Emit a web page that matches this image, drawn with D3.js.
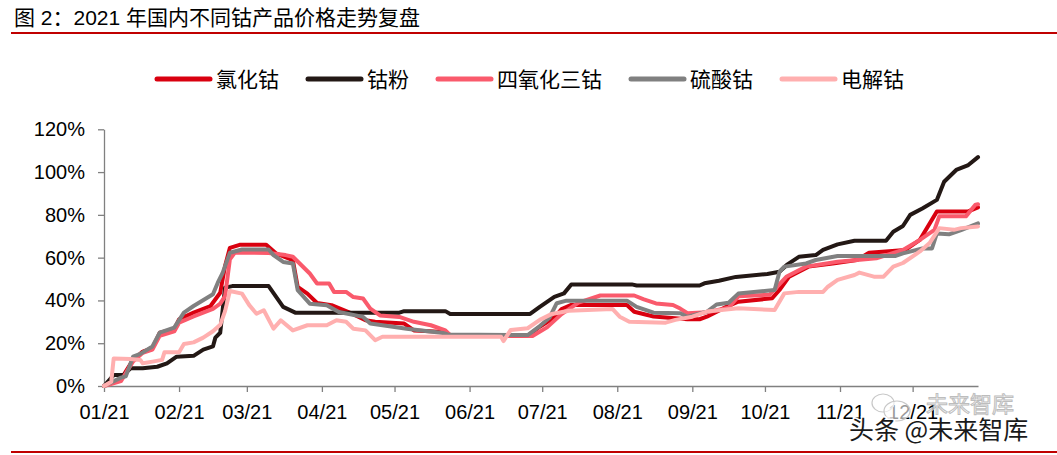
<!DOCTYPE html>
<html><head><meta charset="utf-8">
<script src="https://cdn.jsdelivr.net/npm/d3@7"></script>
<style>
html,body{margin:0;padding:0;background:#fff;}
svg{display:block;font-family:"Liberation Sans",Arial,"Noto Sans CJK SC",sans-serif;}
</style></head><body>
<svg id="chart" width="1057" height="455"></svg>
<script>
// ---------- DATA ----------
const titleText = "图 2：2021 年国内不同钴产品价格走势复盘";
const seriesNames = ["氯化钴", "钴粉", "四氧化三钴", "硫酸钴", "电解钴"];
const seriesColors = ["#D9000F", "#231815", "#FA5A6C", "#808080", "#FFAFAF"];
const yTickValues = [0, 20, 40, 60, 80, 100, 120];
const xTickDates = ["01-01","02-01","03-01","04-01","05-01","06-01","07-01","08-01","09-01","10-01","11-01","12-01"];

const cobaltChloride = [["01-01",0],["01-06",2.3],["01-08",3.1],["01-13",12.2],["01-17",16.1],["01-21",17.7],["01-24",24.9],["01-30",26.5],["02-01",31.2],["02-07",34.3],["02-14",37.4],["02-18",43.6],["02-20",56.1],["02-22",64.6],["02-26",66],["03-09",66],["03-13",62],["03-20",58.8],["03-22",46.3],["03-26",43.2],["03-30",38.8],["04-05",37.8],["04-12",34.6],["04-19",30.7],["04-23",30],["05-05",29.2],["05-09",26],["05-22",25.3],["05-24",23.8],["06-25",23.4],["06-30",27.7],["07-06",32],["07-09",36],["07-13",37.9],["08-05",37.9],["08-08",34.7],["08-16",32.5],["08-30",31.2],["09-04",31.2],["09-07",32.4],["09-15",37],["09-20",39.4],["10-04",41],["10-07",44.9],["10-11",51.1],["10-15",53.4],["10-19",55.8],["10-29",57.3],["11-08",58.9],["11-13",62.3],["11-28",63.6],["12-04",68.3],["12-11",81.6],["12-24",81.6],["12-28",83.5]];

const cobaltPowder = [["01-01",0],["01-05",5.1],["01-09",5.1],["01-12",8.3],["01-17",8.3],["01-23",9],["01-27",10.6],["01-31",13.7],["02-07",14.1],["02-11",17],["02-15",18.5],["02-16",22.6],["02-18",24.9],["02-20",46],["02-23",46.7],["03-10",46.7],["03-16",37],["03-21",34.3],["05-03",34.3],["05-05",35],["05-22",35],["05-24",33.7],["06-26",33.7],["06-30",37],["07-06",41.7],["07-10",43.3],["07-13",47.5],["08-07",47.5],["08-09",47],["09-04",47],["09-06",48],["09-12",49.2],["09-19",51],["10-02",52.4],["10-07",53.4],["10-10",56.6],["10-15",60.4],["10-22",61.2],["10-25",63.6],["10-31",66.2],["11-07",67.9],["11-20",67.9],["11-23",72.1],["11-27",74.8],["11-30",80],["12-05",83],["12-11",87],["12-14",95.5],["12-19",101],["12-24",103.3],["12-28",107]];

const tricobaltTetroxide = [["01-01",0],["01-08",2.3],["01-13",11.5],["01-17",15.5],["01-21",17],["01-24",23.5],["01-30",25.5],["02-01",29.6],["02-07",32.5],["02-15",36],["02-18",38.5],["02-20",42],["02-22",59.2],["02-24",62.3],["03-10",62.2],["03-17",61.2],["03-20",60.4],["03-27",52.6],["03-30",47.9],["04-04",47.9],["04-06",44],["04-11",44],["04-14",41.6],["04-18",40.9],["04-21",36.2],["04-25",33],["05-03",32.3],["05-09",30],["05-16",28.4],["05-22",26],["05-24",23.8],["06-27",23.4],["07-03",27.4],["07-09",33.6],["07-16",39],["07-25",42.3],["08-08",42.3],["08-12",40.5],["08-17",38.6],["08-24",37.9],["08-27",36.2],["08-30",34],["09-07",34.5],["09-16",36.6],["09-20",41.9],["10-03",42.7],["10-10",51.2],["10-18",55.8],["10-31",58.1],["11-16",59.7],["11-27",63.6],["12-04",68.3],["12-10",73],["12-12",79.3],["12-23",79.3],["12-27",84.8],["12-28",85]];

const cobaltSulfate = [["01-01",0],["01-08",3.9],["01-10",4.5],["01-13",13.7],["01-16",15],["01-21",18.5],["01-24",24.9],["01-30",27.3],["02-03",34.3],["02-07",37.4],["02-15",42.9],["02-17",48.3],["02-19",52.9],["02-22",62.3],["02-27",63.8],["03-10",63.8],["03-12",61.2],["03-16",58],["03-20",57.3],["03-22",44.8],["03-27",38.5],["04-03",37.8],["04-08",34.6],["04-18",32.3],["04-21",29.2],["05-06",26.8],["05-21",24.8],["05-23",24.1],["06-25",23.8],["06-30",28],["07-04",31.9],["07-07",38.7],["07-11",39.9],["08-05",39.9],["08-09",37],["08-16",34.3],["08-27",34],["08-30",32.4],["09-07",34.7],["09-11",38.1],["09-16",38.9],["09-20",43.2],["10-05",44.9],["10-07",53.4],["10-09",55.8],["10-18",57.3],["10-22",58.9],["10-31",60.8],["11-24",60.8],["11-27",62],["12-05",64.3],["12-09",64.3],["12-11",71.3],["12-16",70.9],["12-21",72.9],["12-28",76]];

const electrolyticCobalt = [["01-01",0],["01-04",2],["01-05",12.9],["01-12",12.6],["01-16",12.2],["01-17",10.6],["01-21",11.4],["01-25",12.2],["01-26",15.8],["02-01",15.8],["02-03",19.6],["02-07",20.4],["02-11",22.6],["02-15",25.6],["02-18",28.6],["02-20",35],["02-22",44.4],["02-27",43.2],["03-02",37.8],["03-05",33.8],["03-08",35.4],["03-12",26.8],["03-15",30.7],["03-20",26],["03-26",28.4],["04-03",28.4],["04-07",30.7],["04-11",30],["04-14",26.8],["04-19",26],["04-23",21.4],["04-26",23],["06-14",23],["06-15",21],["06-18",26.2],["06-25",27],["06-30",30.9],["07-05",33.7],["07-12",35.2],["07-30",36],["08-02",32.4],["08-06",30],["08-21",29.6],["08-25",30.9],["09-01",32.4],["09-07",34.8],["09-20",36.3],["10-05",35.5],["10-09",43.3],["10-15",44],["10-25",44],["10-27",46.4],["10-31",49.6],["11-07",51.9],["11-09",53],["11-15",51.1],["11-19",51.1],["11-23",55.8],["11-27",57.5],["12-04",62.9],["12-08",66.8],["12-12",73.8],["12-18",73],["12-21",73.8],["12-28",74.6]];

const seriesData = [cobaltChloride, cobaltPowder, tricobaltTetroxide, cobaltSulfate, electrolyticCobalt];

// ---------- CHART ----------
const parse = d3.timeParse("%Y-%m-%d");
const toDate = s => parse("2021-" + s);

const svg = d3.select("#chart");
const W = 1057, H = 455;
const plot = {left: 104, right: 978, top: 129.3, bottom: 386};

const x = d3.scaleTime().domain([toDate("01-01"), toDate("12-28")]).range([plot.left, plot.right]);
const y = d3.scaleLinear().domain([0, 120]).range([plot.bottom, plot.top]);

// title
svg.append("text").attr("x", 14).attr("y", 25)
  .attr("font-size", 21).attr("fill", "#000")
  .attr("font-family", "'Liberation Sans','Noto Sans CJK SC',sans-serif")
  .text(titleText);
svg.append("line").attr("x1", 11).attr("x2", W).attr("y1", 33).attr("y2", 33)
  .attr("stroke", "#C00000").attr("stroke-width", 2);
svg.append("line").attr("x1", 11).attr("x2", W).attr("y1", 452).attr("y2", 452)
  .attr("stroke", "#C00000").attr("stroke-width", 2);

// legend
const legend = svg.append("g").attr("class", "legend");
let lx = 157;
seriesNames.forEach((name, i) => {
  legend.append("line").attr("x1", lx).attr("x2", lx + 53).attr("y1", 79).attr("y2", 79)
    .attr("stroke", seriesColors[i]).attr("stroke-width", 5).attr("stroke-linecap", "round");
  const t = legend.append("text").attr("x", lx + 59).attr("y", 79).attr("dy", "0.38em")
    .attr("font-size", 21).attr("fill", "#000")
    .attr("font-family", "'Noto Sans CJK SC',sans-serif").text(name);
  lx = lx + 59 + t.node().getComputedTextLength() + 29;
});

// axes
const yAxis = d3.axisLeft(y).tickValues(yTickValues).tickFormat(d => d + "%")
  .tickSize(6).tickPadding(13).tickSizeOuter(0);
const xAxis = d3.axisBottom(x).tickValues(xTickDates.map(toDate))
  .tickFormat(d3.timeFormat("%m/%y")).tickSize(6).tickPadding(13).tickSizeOuter(0);

const gy = svg.append("g").attr("transform", `translate(${plot.left},0)`).call(yAxis);
const gx = svg.append("g").attr("transform", `translate(0,${plot.bottom})`).call(xAxis);
[gx, gy].forEach(g => {
  g.select(".domain").attr("stroke", "#808080").attr("stroke-width", 1.3);
  g.selectAll(".tick line").attr("stroke", "#808080").attr("stroke-width", 1.3);
  g.selectAll(".tick text").attr("font-size", 20).attr("fill", "#000")
    .attr("font-family", "'Liberation Sans',Arial,sans-serif");
});

// lines
const line = d3.line().x(d => x(toDate(d[0]))).y(d => y(d[1])).curve(d3.curveLinear);
const lg = svg.append("g");
seriesData.forEach((data, i) => {
  lg.append("path").datum(data).attr("d", line)
    .attr("fill", "none").attr("stroke", seriesColors[i])
    .attr("stroke-width", 4).attr("stroke-linejoin", "round").attr("stroke-linecap", "round");
});

// watermark
const wm = svg.append("g");
wm.append("ellipse").attr("cx", 883).attr("cy", 403).attr("rx", 11).attr("ry", 9)
  .attr("fill", "rgba(255,255,255,0.6)").attr("stroke", "#c8c8c8").attr("stroke-width", 1.2);
wm.append("ellipse").attr("cx", 897).attr("cy", 411).attr("rx", 13).attr("ry", 10)
  .attr("fill", "rgba(255,255,255,0.6)").attr("stroke", "#c8c8c8").attr("stroke-width", 1.2);
wm.append("text").attr("x", 926).attr("y", 412).attr("font-size", 22)
  .attr("font-family", "'Noto Sans CJK SC',sans-serif")
  .attr("fill", "rgba(255,255,255,0.5)").attr("stroke", "#bdbdbd").attr("stroke-width", 1)
  .text("未来智库");
wm.append("text").attr("x", 849).attr("y", 439).attr("font-size", 25)
  .attr("font-family", "'Noto Sans CJK SC',sans-serif")
  .attr("fill", "#1a1a1a").attr("stroke", "#fff").attr("stroke-width", 3)
  .attr("paint-order", "stroke").text("头条 @未来智库");
</script>
</body></html>
